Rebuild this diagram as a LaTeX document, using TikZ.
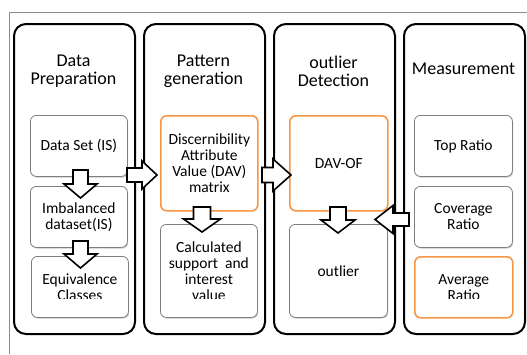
\documentclass[tikz,border=0pt]{standalone}
\usepackage{fontspec}
\setmainfont{Carlito}
\usetikzlibrary{shadows}
\definecolor{boxorange}{HTML}{F79646}
\definecolor{boxgray}{HTML}{7F7F7F}
\definecolor{framegray}{HTML}{8C8C8C}
\newcommand{\vblk}[6]{% cx, ytail, ybase, ytip, halfshaft, halfhead
  \draw[blockarrow] ({#1-#5},#2) -- ({#1-#5},#3) -- ({#1-#6},#3) -- (#1,#4) -- ({#1+#6},#3) -- ({#1+#5},#3) -- ({#1+#5},#2) -- cycle;}
\newcommand{\hblk}[6]{% cy, xtail, xbase, xtip, halfshaft, halfhead
  \draw[blockarrow] (#2,{#1-#5}) -- (#3,{#1-#5}) -- (#3,{#1-#6}) -- (#4,#1) -- (#3,{#1+#6}) -- (#3,{#1+#5}) -- (#2,{#1+#5}) -- cycle;}
\begin{document}
\begin{tikzpicture}[x=1pt,y=-1pt,
  outerbox/.style={draw=black, line width=2pt, rounded corners=12pt, anchor=north west, inner sep=0pt, minimum width=121pt, minimum height=310pt},
  graybox/.style={draw=boxgray, line width=0.8pt, fill=white, rounded corners=6pt, anchor=north west, inner sep=0pt, minimum width=97pt, align=center, font=\fontsize{15.5}{16}\selectfont,
    drop shadow={shadow xshift=0.8pt, shadow yshift=-1.2pt, fill=black!35, opacity=0.6}},
  orangebox/.style={draw=boxorange, line width=1.6pt, fill=white, rounded corners=6pt, anchor=north west, inner sep=0pt, minimum width=97pt, align=center, font=\fontsize{15.5}{16}\selectfont},
  boxtext/.style={align=center, inner sep=0pt, font=\fontsize{15.5}{16}\selectfont},
  title/.style={align=center, inner sep=0pt, font=\fontsize{18}{18}\selectfont},
  blockarrow/.style={draw=black, line width=1.6pt, fill=white, line join=miter}
]
\useasboundingbox (0,0) rectangle (527,354);
% frame
\draw[framegray, line width=0.8pt] (9,354) -- (9,12) -- (527,12);
% columns
\node[outerbox] (c1) at (13,23) {};
\node[outerbox] (c2) at (143,23) {};
\node[outerbox] (c3) at (273,23) {};
\node[outerbox] (c4) at (403,23) {};
% titles
\node[title] (t1) at (73.5,71) {Data\\Preparation};
\node[title] (t2) at (203.5,71) {Pattern\\generation};
\node[title] (t3) at (333.5,71) {outlier\\Detection};
\node[title] (t4) at (463.5,69) {Measurement};
% column 1
\node[graybox, minimum height=61pt] (ds) at (30,115) {Data Set (IS)};
\node[graybox, minimum height=61pt] (ib) at (30,186) {Imbalanced\\dataset(IS)};
\node[graybox, minimum height=61pt] (eq) at (31,256) {};
% column 2
\node[orangebox, minimum height=95pt] (dav) at (160,115) {Discernibility\\Attribute\\Value (DAV)\\matrix};
\node[graybox, minimum height=93pt] (calc) at (160,224) {};
% column 3
\node[orangebox, minimum width=98pt, minimum height=95pt] (davof) at (289,115) {DAV-OF};
\node[graybox, minimum width=98pt, minimum height=93pt] (out) at (289,224) {outlier};
% column 4
\node[graybox, minimum width=98pt, minimum height=61pt] (top) at (414,115) {Top Ratio};
\node[graybox, minimum width=98pt, minimum height=61pt] (cov) at (414,186) {Coverage\\Ratio};
\node[orangebox, minimum width=98pt, minimum height=61pt] (avg) at (414,256) {};
% clipped texts
\begin{scope}
  \clip (0,0) rectangle (527,298);
  \node[boxtext] (eqt) at (eq.center) {Equivalence\\Classes};
  \node[boxtext] (calct) at (calc.center) {Calculated\\support~ and\\interest\\value};
  \node[boxtext] (avgt) at (avg.center) {Average\\Ratio};
\end{scope}
% block arrows
\vblk{80.5}{170}{184}{198}{7.5}{16.5}
\vblk{80.5}{241}{254}{268}{7.5}{16.5}
\vblk{202}{207}{219}{232}{8.5}{18.5}
\vblk{338}{207}{220}{233}{8}{17}
\hblk{175}{127}{142}{157}{7}{14}
\hblk{175}{262}{273}{291}{7.5}{16}
\hblk{219.5}{409}{393}{375}{6.5}{14}
\end{tikzpicture}
\end{document}
